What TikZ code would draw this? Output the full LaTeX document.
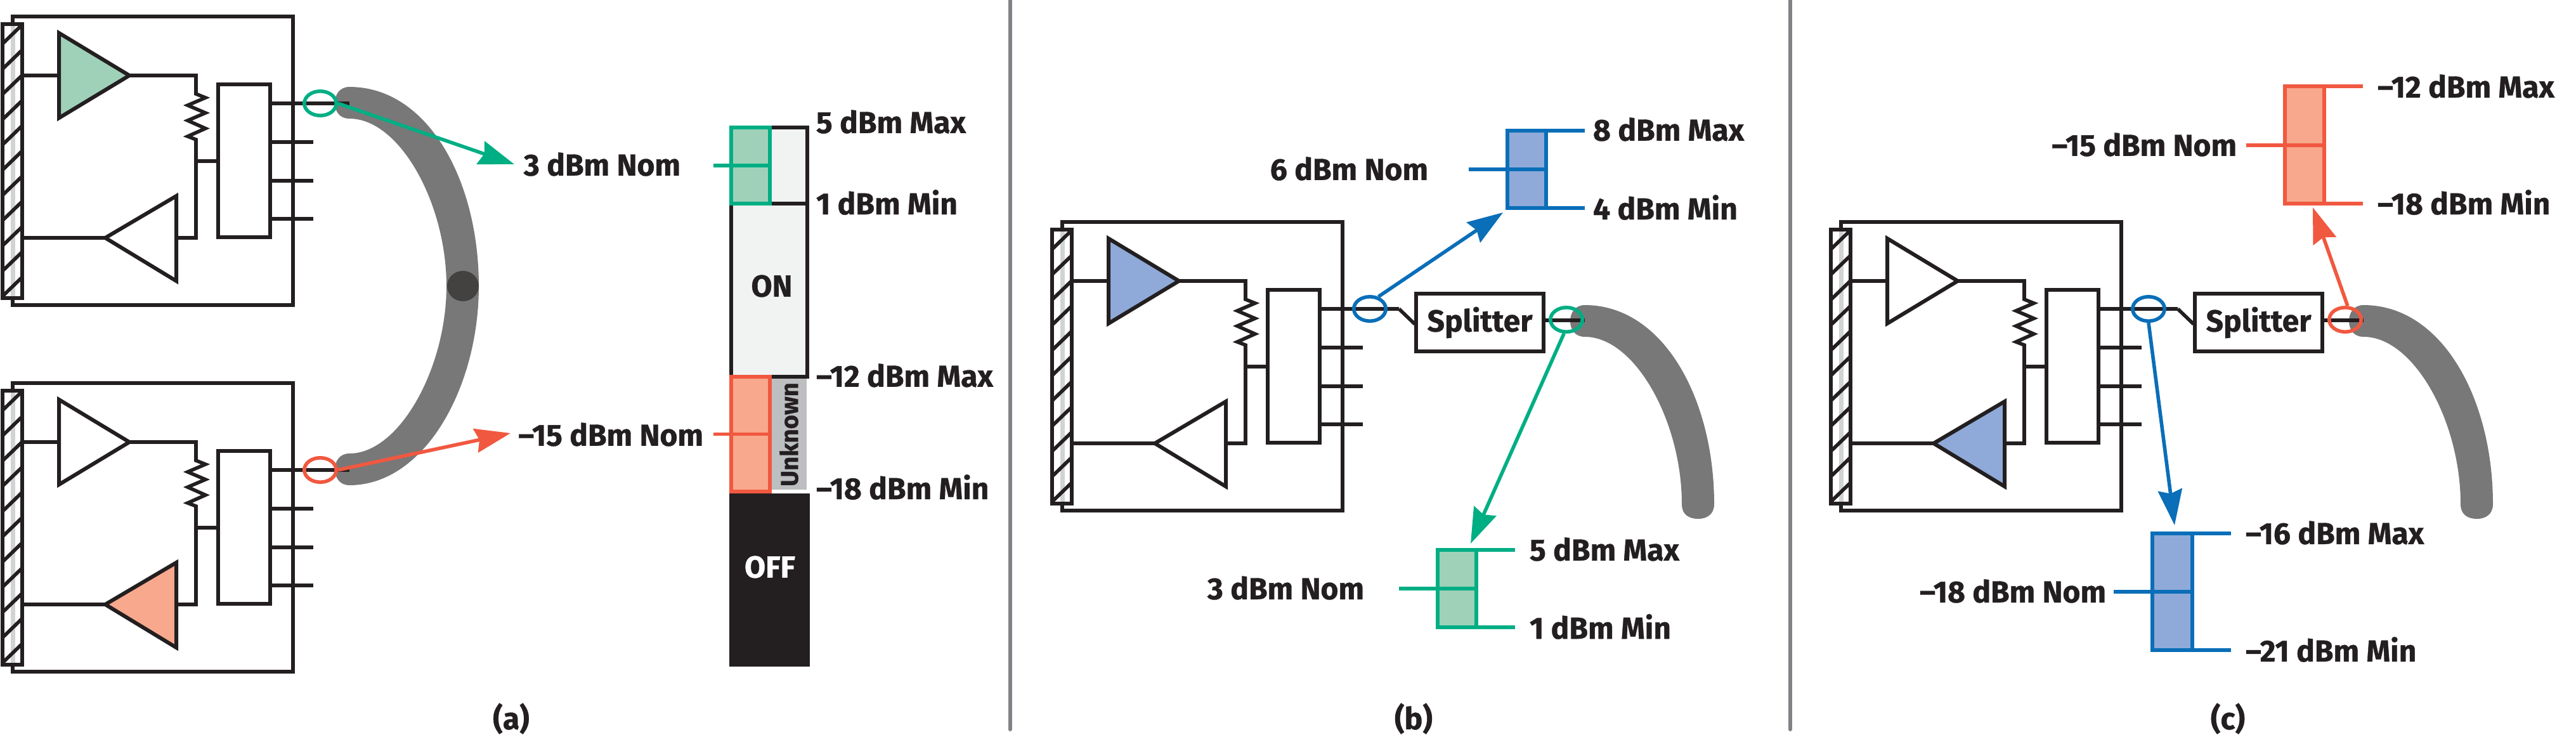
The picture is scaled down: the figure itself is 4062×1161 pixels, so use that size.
\documentclass[tikz,border=0pt]{standalone}
\usepackage{fontspec}
\setmainfont[BoldFeatures={FakeBold=0.7}]{Fira Sans}
\usetikzlibrary{arrows.meta,fit,shapes.geometric}

\definecolor{ink}{RGB}{35,31,32}
\definecolor{fibre}{RGB}{121,120,120}
\definecolor{fibredot}{RGB}{67,66,64}
\definecolor{divider}{RGB}{128,130,133}
\definecolor{stripgray}{RGB}{209,211,212}
\definecolor{ongray}{RGB}{241,242,242}
\definecolor{unkgray}{RGB}{188,190,192}
\definecolor{gline}{RGB}{0,174,132}
\definecolor{gfill}{RGB}{159,209,185}
\definecolor{rline}{RGB}{241,88,64}
\definecolor{rfill}{RGB}{248,168,140}
\definecolor{bline}{RGB}{10,110,184}
\definecolor{bfill}{RGB}{143,170,216}

\tikzset{
  wire/.style={draw=ink,line width=1.4pt},
  thickwire/.style={draw=ink,line width=1.5pt},
  lbl/.style={font=\bfseries\fontsize{12}{14}\selectfont,text=ink,inner sep=0pt,outer sep=0pt},
  ring/.style={draw=#1,ellipse,line width=1.4pt,inner sep=0pt,minimum width=12.6pt,minimum height=9.6pt},
  probe/.style={draw=#1,line width=1.4pt,-{Stealth[length=14pt,width=9.5pt,inset=1.5pt]}},
  rangebox/.style={inner sep=0pt,outer sep=0pt,line width=1.5pt},
}

% transceiver: name, x shift, y shift, transmit fill, receive fill, ring colour
\newcommand{\transceiver}[6]{
\begin{scope}[shift={(#2,#3)}]
%Shape: Rectangle
\draw [wire] (20,26) -- (462,26) -- (462,481) -- (20,481) -- cycle ;
%Shape: Rectangle
\fill [white] (4,38) rectangle (35,470);
\fill [stripgray] (17,38) -- (24,38) -- (24,470) -- (17,470) -- cycle ;
\foreach \k in {0,...,10} \draw [wire] (35,39+39.8*\k) -- (5,68+39.8*\k) ;
\node [thickwire,inner sep=0pt,outer sep=0pt,minimum width=7.8pt,minimum height=108pt] (#1strip) at (19.5,254) {};
%Shape: Triangle
\draw [thickwire,fill=#4] (93,52) -- (204,119) -- (93,186) -- cycle ;
\draw [thickwire,fill=#5] (278,309) -- (166,375) -- (278,443) -- cycle ;
\coordinate (#1txin) at (93,119);
\coordinate (#1txout) at (204,119);
\coordinate (#1rxin) at (278,375);
\coordinate (#1rxout) at (166,375);
%Shape: Rectangle
\node [thickwire,fill=white,inner sep=0pt,outer sep=0pt,minimum width=20.5pt,minimum height=60.2pt] (#1block) at (385,253.5) {};
%Straight Lines
\draw [wire] (#1txin -| #1strip.east) -- (#1txin) ;
\draw [wire] (#1rxout -| #1strip.east) -- (#1rxout) ;
\draw [wire] (#1txout) -- (309,119) -- (309,148) -- (324,154) -- (296,166) -- (324,178) -- (296,190) -- (324,202.5) -- (296,215) -- (309,220) -- (309,375) -- (#1rxin) ;
\coordinate (#1tap) at (309,254);
\draw [wire] (#1tap) -- (#1block.west |- #1tap) ;
\coordinate (#1out) at (551,163);
\draw [wire] (#1block.east |- #1out) -- (#1out) ;
\foreach \p in {224,285,345} \draw [wire] (426,\p) -- (494,\p) ;
\node [ring=#6] (#1ring) at (505,163) {};
\end{scope}
}

% range bar: name, line colour, fill colour, x left, x right, y top, y bottom
\newcommand{\rangebar}[7]{
\coordinate (#1nw) at (#4,#6);
\coordinate (#1se) at (#5,#7);
\node [rangebox,draw=#2,fill=#3,fit=(#1nw)(#1se)] (#1) {};
\draw [#2,line width=1.5pt] (#1.north east) -- ++(61,0) ;
\draw [#2,line width=1.5pt] (#1.south east) -- ++(61,0) ;
\draw [#2,line width=1.5pt] (#1.east) -- ([xshift=-15.25pt]#1.west) ;
}

% short piece of cable
\newcommand{\fibrestub}[2]{
\fill [fibre,shift={(#1,#2)}] (551,137) .. controls (675,137) and (755,285) .. (755,451) .. controls (755,468) and (742,474) .. (730,474) .. controls (716,474) and (704,468) .. (704,451) .. controls (704,320) and (630,187) .. (551,187) .. controls (535,187) and (528,175) .. (528,162) .. controls (528,150) and (535,137) .. (551,137) -- cycle ;
}

\begin{document}
\begin{tikzpicture}[x=0.25pt,y=0.25pt,yscale=-1,xscale=1]
\useasboundingbox (0,0) rectangle (4062,1161);

%Straight Lines
\draw [divider,line width=1.5pt,line cap=round] (1593,-5) -- (1593,1150) ;
\draw [divider,line width=1.5pt,line cap=round] (2823,-5) -- (2823,1150) ;

%Shape: Cable
\fill [fibre] (551,137) .. controls (675,137) and (755,285) .. (755,451) .. controls (755,610) and (670,765) .. (551,765) .. controls (535,765) and (528,752) .. (528,740) .. controls (528,728) and (535,715) .. (551,715) .. controls (630,715) and (704,580) .. (704,451) .. controls (704,320) and (630,187) .. (551,187) .. controls (535,187) and (528,175) .. (528,162) .. controls (528,150) and (535,137) .. (551,137) -- cycle ;
\node [fill=fibredot,ellipse,inner sep=0pt,minimum width=12.5pt,minimum height=12pt] (dotA) at (730,451) {};
\fibrestub{1948}{344}
\fibrestub{3176}{344}

\transceiver{modA}{0}{0}{gfill}{white}{gline}
\transceiver{modB}{0}{578}{white}{rfill}{rline}
\transceiver{modC}{1655}{324}{bfill}{white}{bline}
\transceiver{modD}{2883}{324}{white}{bfill}{bline}

%Shape: Level scale
\node [draw=ink,fill=ongray,line width=1.4pt,inner sep=0pt,outer sep=0pt,minimum width=30pt,minimum height=98.25pt] (zoneOn) at (1213,397.5) {};
\node [fill=unkgray,inner sep=0pt,minimum width=13.75pt,minimum height=43.75pt] (zoneUnk) at (1244.5,684.5) {};
\node [fill=ink,inner sep=0pt,outer sep=0pt,minimum width=31.75pt,minimum height=68.25pt] (zoneOff) at (1213.5,914.5) {};
\draw [ink,line width=1.4pt] (1214,321) -- (1273,321) ;
\draw [ink,line width=1.4pt] (1214,594) -- (1273,594) ;
\coordinate (gnw) at (1153,201);
\coordinate (gse) at (1214,321);
\node [rangebox,draw=gline,fill=gfill,fit=(gnw)(gse)] (barOn) {};
\draw [gline,line width=1.4pt] (barOn.east) -- ([xshift=-7pt]barOn.west) ;
\coordinate (rnw) at (1153,594);
\coordinate (rse) at (1214,775);
\node [rangebox,draw=rline,fill=rfill,fit=(rnw)(rse)] (barUnk) {};
\draw [rline,line width=1.4pt] (barUnk.east) -- ([xshift=-7pt]barUnk.west) ;

\rangebar{barB}{bline}{bfill}{2377}{2438}{206}{328}
\rangebar{barG}{gline}{gfill}{2267}{2328}{867}{989}
\rangebar{barR}{rline}{rfill}{3603}{3665}{136}{321}
\rangebar{barD}{bline}{bfill}{3394}{3457}{841}{1025}

%Shape: Rectangle
\node [thickwire,fill=white,inner sep=0pt,outer sep=0pt,minimum width=50.25pt,minimum height=22.75pt,lbl] (splitB) at (2333.5,508.5) {Splitter};
\node [thickwire,fill=white,inner sep=0pt,outer sep=0pt,minimum width=50.25pt,minimum height=22.75pt,lbl] (splitC) at (3561.5,508.5) {Splitter};

%Straight Lines
\coordinate (feedB) at (2231,511);
\coordinate (feedC) at (3459,511);
\coordinate (cableB) at (2499,505);
\coordinate (cableC) at (3727,505);
\draw [wire] (modCout) -- (feedB) ;
\draw [wire] (modDout) -- (feedC) ;
\draw [wire] (splitB.east |- cableB) -- (cableB) ;
\draw [wire] (splitC.east |- cableC) -- (cableC) ;
\node [ring=gline] (ringB) at (2470,504) {};
\node [ring=rline] (ringC) at (3698,504) {};

%Straight Lines
\coordinate (tipA) at (811,259);
\coordinate (tipB) at (805,683);
\coordinate (tipC) at (2370,335);
\coordinate (tipD) at (2319,857);
\coordinate (tipE) at (3647,327);
\coordinate (tipF) at (3429,828);
\draw [probe=gline] (modAring.east) -- (tipA) ;
\draw [probe=rline] (modBring.east) -- (tipB) ;
\draw [probe=bline] (modCring.55) -- (tipC) ;
\draw [probe=gline] (ringB.-100) -- (tipD) ;
\draw [probe=rline] (ringC.80) -- (tipE) ;
\draw [probe=bline] (modDring.south) -- (tipF) ;

% Text Node
\node [lbl,anchor=west] (maxOn) at (1287,192) {5 dBm Max};
\node [lbl,anchor=west] (minOn) at (1287,319) {1 dBm Min};
\node [lbl,anchor=west] (maxUnk) at (1287,592) {–12 dBm Max};
\node [lbl,anchor=west] (minUnk) at (1287,768) {–18 dBm Min};
\node [lbl,anchor=east] (nomOn) at (1073,259) {3 dBm Nom};
\node [lbl,anchor=east] (nomUnk) at (1109,685) {–15 dBm Nom};
\node [lbl] (txtOn) at (1217,451) {ON};
\node [lbl,text=white] (txtOff) at (1214,894) {OFF};
\node [lbl,rotate=90,font=\bfseries\fontsize{9.6}{11}\selectfont] (txtUnk) at (1244,685) {Unknown};
% Text Node
\node [lbl,anchor=west] (maxB) at (2512,204) {8 dBm Max};
\node [lbl,anchor=west] (minB) at (2512,327) {4 dBm Min};
\node [lbl,anchor=east] (nomB) at (2252,266) {6 dBm Nom};
\node [lbl,anchor=west] (maxG) at (2412,866) {5 dBm Max};
\node [lbl,anchor=west] (minG) at (2412,988) {1 dBm Min};
\node [lbl,anchor=east] (nomG) at (2151,927) {3 dBm Nom};
% Text Node
\node [lbl,anchor=west] (maxR) at (3749,136) {–12 dBm Max};
\node [lbl,anchor=west] (minR) at (3749,319) {–18 dBm Min};
\node [lbl,anchor=east] (nomR) at (3527,228) {–15 dBm Nom};
\node [lbl,anchor=west] (maxD) at (3541,840) {–16 dBm Max};
\node [lbl,anchor=west] (minD) at (3541,1024) {–21 dBm Min};
\node [lbl,anchor=east] (nomD) at (3321,932) {–18 dBm Nom};
% Text Node
\node [lbl] (capA) at (806,1133) {(a)};
\node [lbl] (capB) at (2229,1133) {(b)};
\node [lbl] (capC) at (3513,1133) {(c)};

\end{tikzpicture}
\end{document}
